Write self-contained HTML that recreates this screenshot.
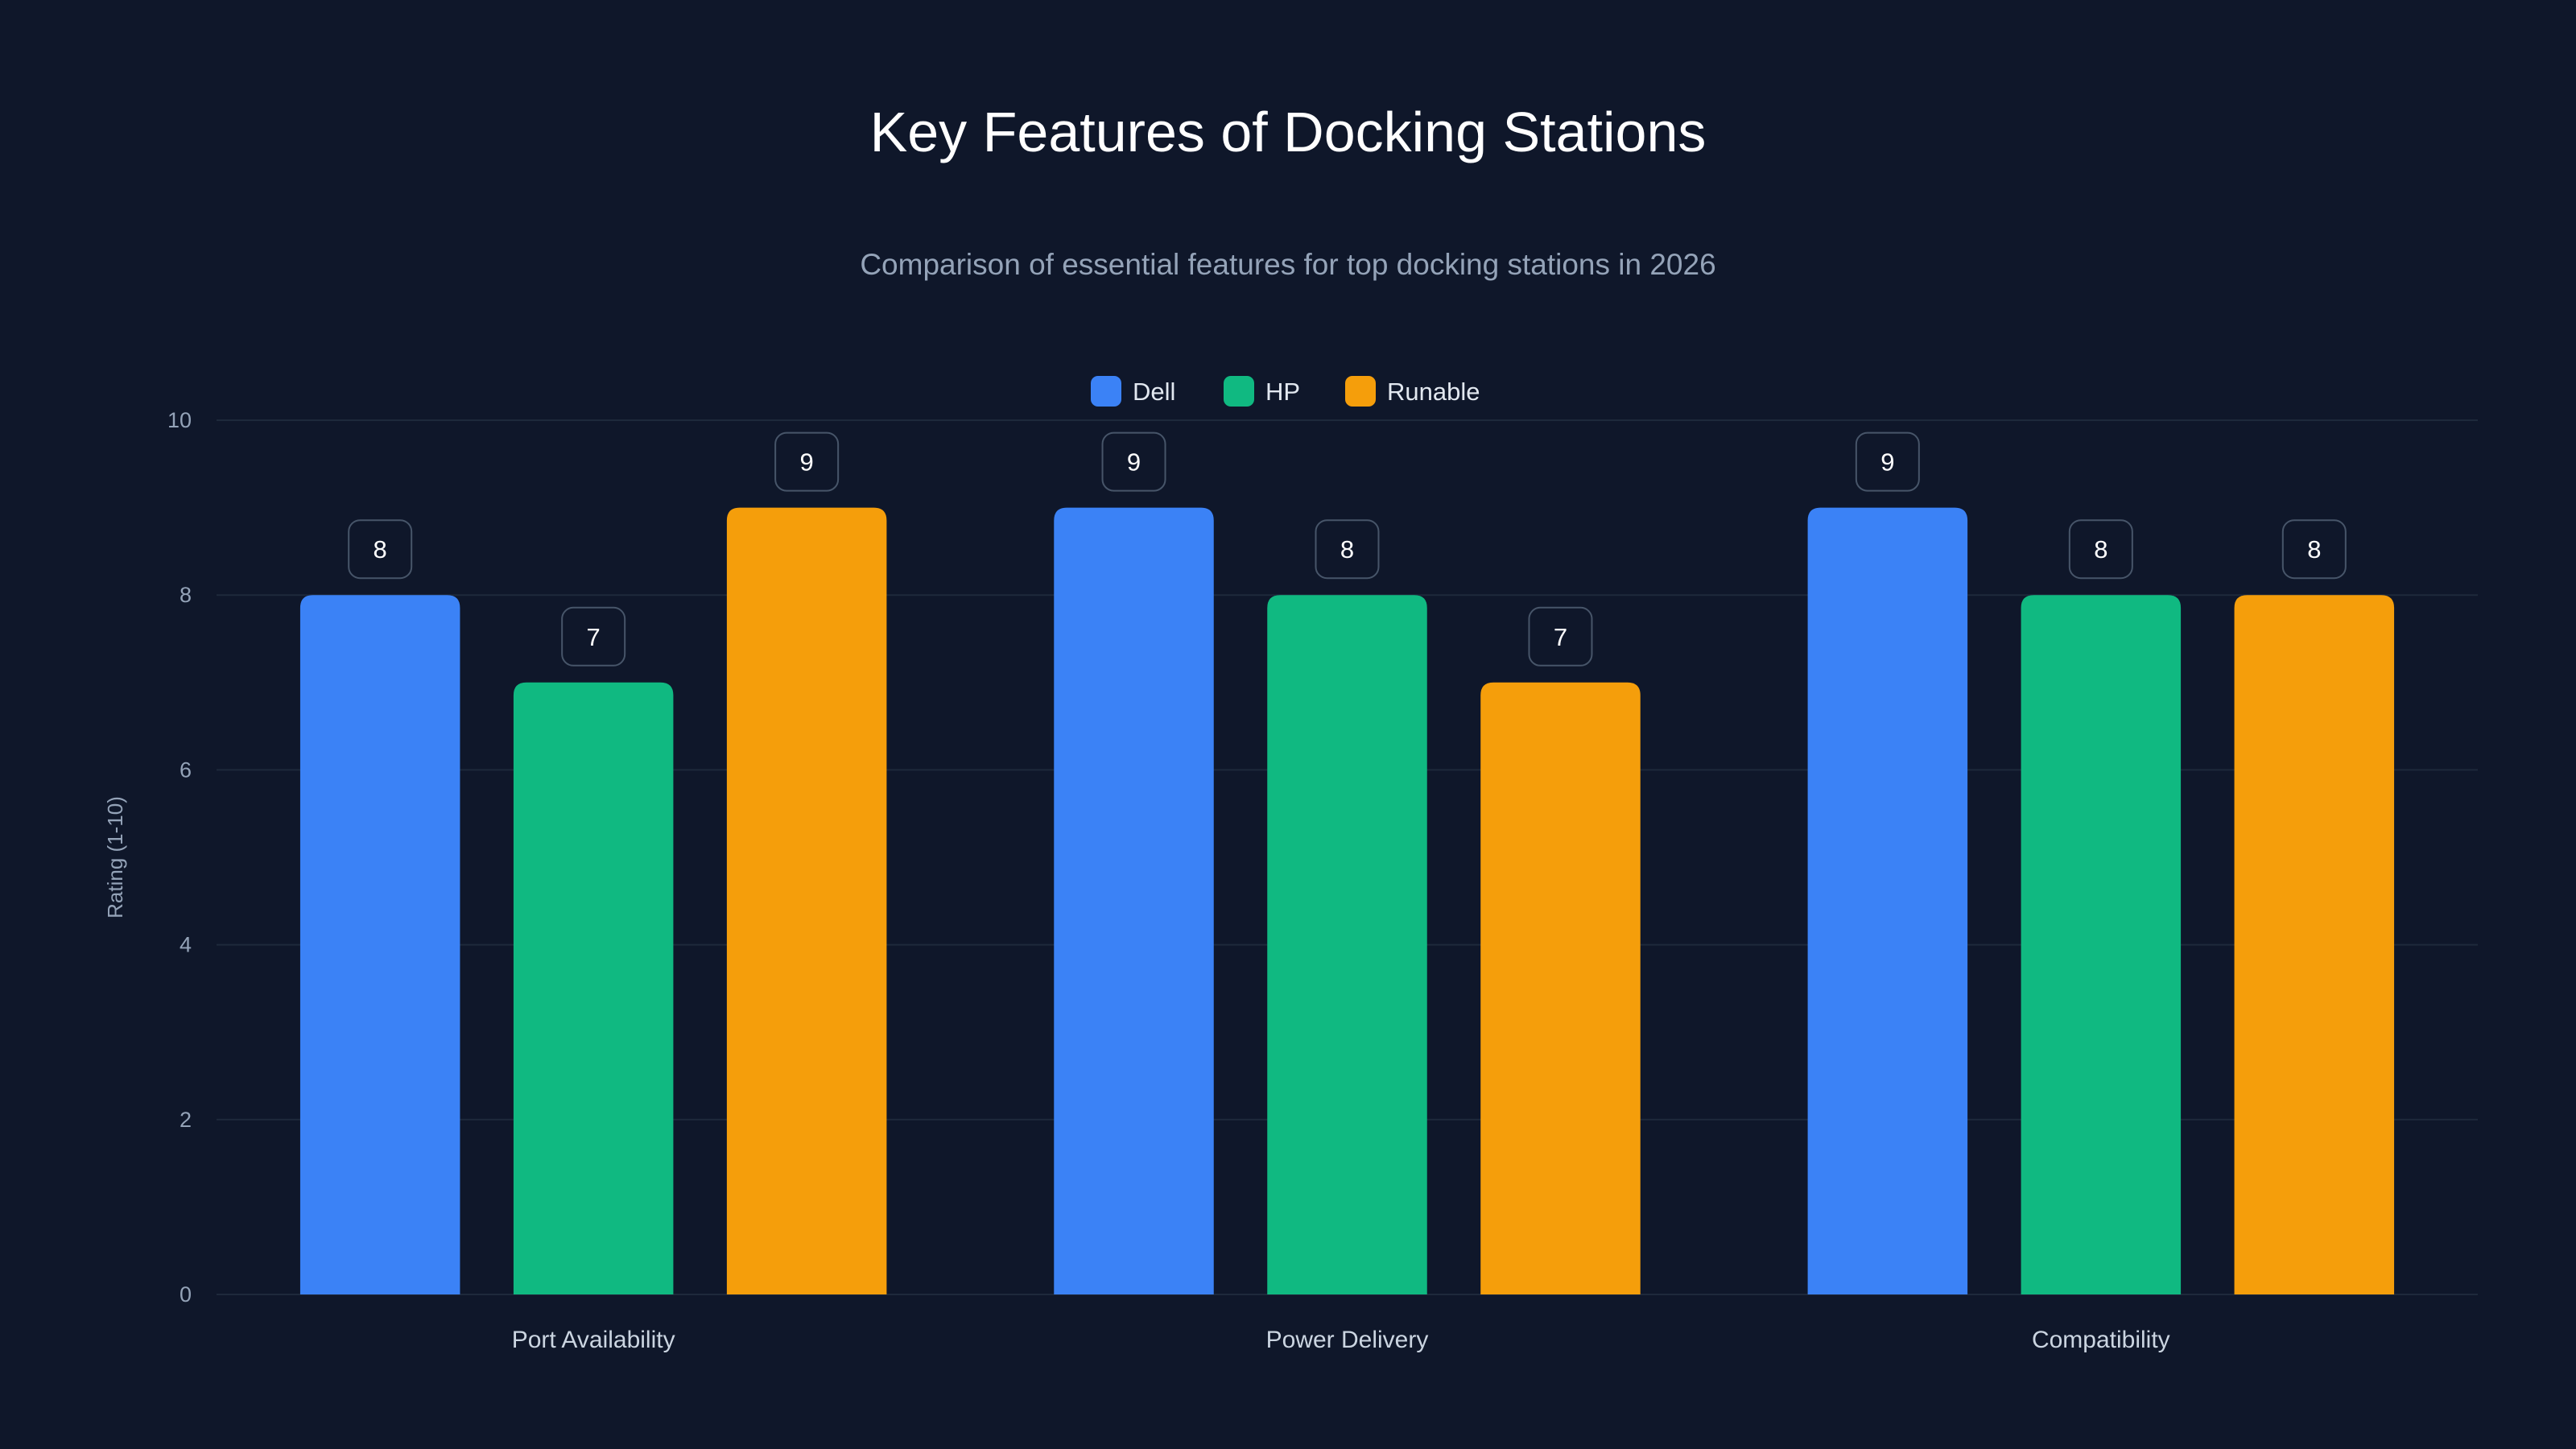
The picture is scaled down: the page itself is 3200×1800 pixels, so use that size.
<!DOCTYPE html>
<html><head><meta charset="utf-8"><style>
html,body{margin:0;padding:0;background:#0f172a;}
svg{display:block;font-family:"Liberation Sans",sans-serif;}
</style></head><body>
<svg id="chart" width="3200" height="1800" viewBox="0 0 3200 1800">
<rect width="3200" height="1800" fill="#0f172a"/>
<text x="1600" y="188" text-anchor="middle" font-size="70" fill="#ffffff">Key Features of Docking Stations</text>
<text x="1600" y="341" text-anchor="middle" font-size="37" fill="#94a3b8">Comparison of essential features for top docking stations in 2026</text>
<g id="legend"></g>
<g id="grid"></g>
<g id="bars"></g>
<g id="labels"></g>
<text transform="translate(152,1065) rotate(-90)" text-anchor="middle" font-size="26" fill="#94a3b8">Rating (1-10)</text>
</svg>
<script>
const categories = ["Port Availability","Power Delivery","Compatibility"];
const seriesNames = ["Dell","HP","Runable"];
const dell = [8,9,9];
const hp = [7,8,8];
const runable = [9,7,8];
const yTicks = [0,2,4,6,8,10];

const series = [dell,hp,runable];
const colors = ["#3b82f6","#10b981","#f59e0b"];
const NS="http://www.w3.org/2000/svg";
const X0=269,X1=3078,Y0=1608,Y10=522;
const yScale=v=>Y0-(v/10)*(Y0-Y10);
const band=(X1-X0)/categories.length;
const xCenter=i=>X0+band*(i+0.5);
const bw=band*0.212, off=band*0.283;
function mk(tag,attrs,parent){const e=document.createElementNS(NS,tag);for(const k in attrs)e.setAttribute(k,attrs[k]);parent.appendChild(e);return e;}
const grid=document.getElementById('grid');
yTicks.forEach(t=>{
  const y=yScale(t);
  const l=mk('line',{x1:X0,x2:X1,y1:y,y2:y,stroke:'#1e293b','stroke-width':2},grid);
  
  
  const tx=mk('text',{x:238,y:y+9,'text-anchor':'end','font-size':27,fill:'#94a3b8'},grid);
  tx.textContent=t;
  
  
});
const bars=document.getElementById('bars'), labels=document.getElementById('labels');
categories.forEach((c,i)=>{
  const cx=xCenter(i);
  const ct=mk('text',{x:cx,y:1674,'text-anchor':'middle','font-size':30,fill:'#cbd5e1'},labels);
  ct.textContent=c;
  
  
  series.forEach((s,j)=>{
    const v=s[i], bx=cx+(j-1)*off-bw/2, by=yScale(v), r=16;
    const p=mk('path',{d:`M${bx},${Y0}V${by+r}Q${bx},${by} ${bx+r},${by}H${bx+bw-r}Q${bx+bw},${by} ${bx+bw},${by+r}V${Y0}Z`,fill:colors[j]},bars);
    
    
    const lx=cx+(j-1)*off, ly=by-57;
    const b=mk('rect',{x:lx-39,y:ly-36,width:78,height:72,rx:14,fill:'#0f172a',stroke:'#475569','stroke-width':2},labels);
    
    
    const t=mk('text',{x:lx,y:ly+11,'text-anchor':'middle','font-size':31,fill:'#ffffff'},labels);
    t.textContent=v;
    
    
  });
});
const legend=document.getElementById('legend');
const lx=[1355,1520,1671];
seriesNames.forEach((n,j)=>{
  const r=mk('rect',{x:lx[j],y:467,width:38,height:38,rx:9,fill:colors[j]},legend);
  
  
  const t=mk('text',{x:lx[j]+52,y:497,'font-size':31,fill:'#e2e8f0'},legend);
  t.textContent=n;
  
  
});
</script>
</body></html>
